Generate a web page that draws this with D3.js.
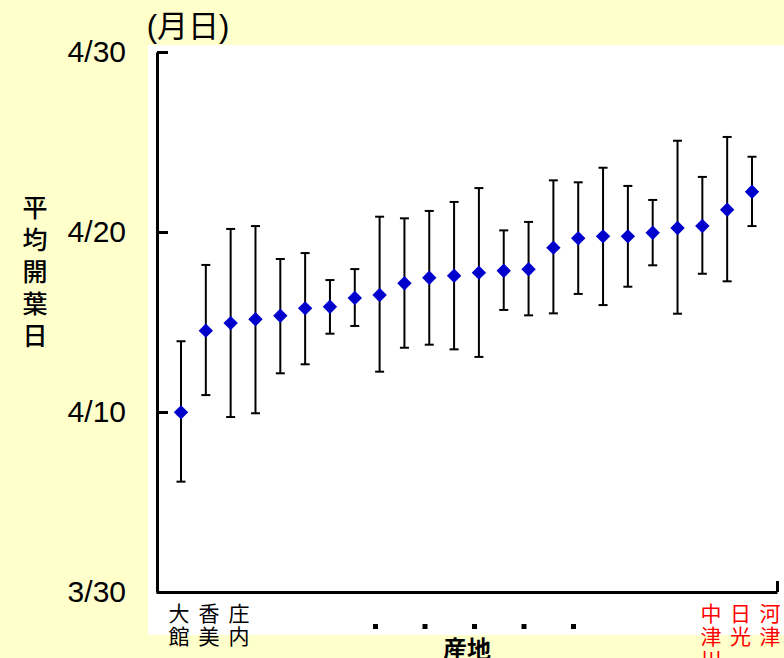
<!DOCTYPE html>
<html>
<head>
<meta charset="utf-8">
<script src="https://cdn.jsdelivr.net/npm/d3@7"></script>
<style>
  body { margin: 0; background: #ffffcc; }
  svg { display: block; font-family: "Liberation Sans", Arial, "Noto Sans CJK JP", sans-serif; }
</style>
</head>
<body>
<svg id="chart" width="784" height="658"></svg>
<script>
// mean leaf-opening day (days counted from 3/30 = 0) and min/max range per origin
const sites = d3.range(24)
const leftNames = ["大館", "香美", "庄内"]
const rightNames = ["中津川", "日光", "河津"]
const means = [9.98, 14.52, 14.94, 15.15, 15.35, 15.76, 15.85, 16.33, 16.5, 17.15, 17.46, 17.57,
  17.74, 17.85, 17.93, 19.13, 19.65, 19.76, 19.76, 19.96, 20.22, 20.33, 21.24, 22.24]
const highs = [13.93, 18.17, 20.17, 20.33, 18.5, 18.83, 17.33, 17.94, 20.85, 20.76, 21.17, 21.67,
  22.44, 20.09, 20.56, 22.87, 22.76, 23.57, 22.56, 21.78, 25.07, 23.06, 25.28, 24.18]
const lows = [6.13, 10.94, 9.72, 9.93, 12.15, 12.65, 14.35, 14.78, 12.24, 13.57, 13.74, 13.48,
  13.06, 15.67, 15.37, 15.48, 16.56, 15.94, 16.96, 18.15, 15.46, 17.68, 17.26, 20.33]
const tickVals = [0, 10, 20, 30]
const tickLabels = ["3/30", "4/10", "4/20", "4/30"]

const svg = d3.select("#chart")

// white plot area
svg.append("rect").attr("x", 148).attr("y", 45).attr("width", 636).attr("height", 590).attr("fill", "#fff")

const x = d3.scalePoint().domain(sites).range([181, 752])
const y = d3.scaleLinear().domain([0, 30]).range([592, 52])

// y axis, ticks pointing inward
const yAxis = svg.append("g")
  .attr("transform", "translate(157,0)")
  .call(d3.axisLeft(y).tickValues(tickVals).tickFormat((d, i) => tickLabels[i])
    .tickSizeInner(-11).tickSizeOuter(0).tickPadding(31))
yAxis.select(".domain").attr("stroke-width", 3)
yAxis.selectAll(".tick line").attr("stroke-width", 3)
yAxis.selectAll(".tick text").attr("font-size", 30).attr("font-family", "Liberation Sans, Arial, sans-serif").attr("fill", "#000")

// x axis with end tick only
const xLine = d3.scaleLinear().domain([0, 1]).range([156, 777])
const xAxis = svg.append("g")
  .attr("transform", "translate(0,592)")
  .call(d3.axisBottom(xLine).tickValues([1]).tickFormat("").tickSizeInner(-11).tickSizeOuter(0))
xAxis.select(".domain").attr("stroke-width", 3)
xAxis.selectAll(".tick line").attr("stroke-width", 3)

// error bars
const bars = svg.append("g").attr("stroke", "#000").attr("stroke-width", 2)
bars.selectAll(".whisker").data(sites).join("line")
  .attr("x1", d => x(d)).attr("x2", d => x(d))
  .attr("y1", d => y(highs[d])).attr("y2", d => y(lows[d]))
bars.selectAll(".capTop").data(sites).join("line").attr("class", "capTop")
  .attr("x1", d => x(d) - 4.5).attr("x2", d => x(d) + 4.5)
  .attr("y1", d => y(highs[d])).attr("y2", d => y(highs[d]))
bars.selectAll(".capBot").data(sites).join("line").attr("class", "capBot")
  .attr("x1", d => x(d) - 4.5).attr("x2", d => x(d) + 4.5)
  .attr("y1", d => y(lows[d])).attr("y2", d => y(lows[d]))

// diamonds
svg.append("g").selectAll("path").data(sites).join("path")
  .attr("d", d3.symbol(d3.symbolDiamond2, 132))
  .attr("transform", d => `translate(${x(d)},${y(means[d])})`)
  .attr("fill", "#0000cc")

// category labels (vertical)
function vLabel(name, cx, color) {
  const t = svg.append("text").attr("font-family", "Noto Sans CJK JP").attr("font-size", 21)
    .attr("fill", color).attr("text-anchor", "middle")
  name.split("").forEach((c, i) => {
    t.append("tspan").attr("x", cx).attr("y", 621 + i * 23).text(c)
  })
}
leftNames.forEach((n, i) => vLabel(n, 179 + i * 30, "#000"))
rightNames.forEach((n, i) => vLabel(n, 711 + i * 29.5, "#ff0000"))

// ellipsis marks between the named origins
svg.append("g").selectAll("rect").data(d3.range(5)).join("rect")
  .attr("x", d => 373 + d * 49.5).attr("y", 624).attr("width", 5).attr("height", 5).attr("fill", "#000")

svg.append("text").attr("x", 467).attr("y", 658).attr("text-anchor", "middle")
  .attr("font-family", "Noto Sans CJK JP").attr("font-weight", "bold").attr("font-size", 24)
  .text("産地")

svg.append("text").attr("x", 188).attr("y", 37).attr("text-anchor", "middle")
  .attr("font-size", 31).text("(月日)")

const yt = svg.append("text").attr("font-family", "Noto Sans CJK JP").attr("font-size", 25)
  .attr("font-weight", 500).attr("text-anchor", "middle")
"平均開葉日".split("").forEach((c, i) => {
  yt.append("tspan").attr("x", 35).attr("y", 217 + i * 32).text(c)
})
</script>
</body>
</html>
